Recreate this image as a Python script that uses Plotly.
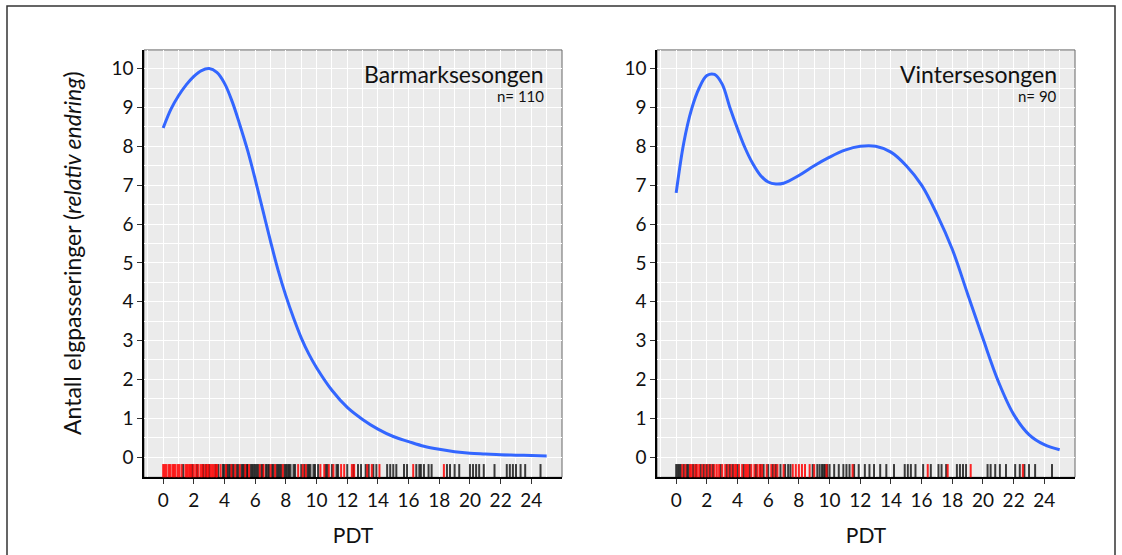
import plotly.graph_objects as go

# Smoothed relative crossing counts against PDT, bare-ground season
barmark_pdt = [0, 0.5, 1, 1.5, 2, 2.5, 3, 3.5, 4, 4.5, 5, 5.5, 6, 6.5, 7, 7.5, 8,
               8.5, 9, 9.5, 10, 11, 12, 13, 14, 15, 16, 17, 18, 19, 20, 21, 22,
               23, 24, 25]
barmark_val = [8.47, 8.95, 9.3, 9.58, 9.8, 9.95, 10.0, 9.9, 9.62, 9.15, 8.55,
               7.9, 7.15, 6.35, 5.55, 4.8, 4.15, 3.58, 3.07, 2.65, 2.3, 1.72,
               1.28, 0.97, 0.72, 0.53, 0.4, 0.28, 0.2, 0.14, 0.1, 0.08, 0.06,
               0.05, 0.04, 0.03]

# Smoothed relative crossing counts against PDT, winter season
vinter_pdt = [0, 0.5, 1, 1.5, 2, 2.5, 3, 3.5, 4, 4.5, 5, 5.5, 6, 6.5, 7, 8, 9,
              10, 11, 12, 13, 14, 15, 16, 17, 18, 19, 20, 21, 22, 23, 24, 25]
vinter_val = [6.8, 8.1, 8.95, 9.5, 9.82, 9.85, 9.6, 9.0, 8.45, 7.95, 7.55,
              7.25, 7.08, 7.03, 7.05, 7.25, 7.5, 7.72, 7.9, 8.0, 8.0, 7.85,
              7.5, 7.0, 6.25, 5.35, 4.2, 3.05, 1.95, 1.1, 0.58, 0.32, 0.19]

# Individual observations (rug), split by colour group
barmark_red = [0.0, 0.1, 0.2, 0.35, 0.45, 0.6, 0.7, 0.8, 0.95, 1.05, 1.2,
               1.45, 1.55, 1.65, 1.75, 1.85, 2.0, 2.15, 2.3, 2.45, 2.55, 2.7,
               2.85, 2.95, 3.1, 3.2, 3.3, 3.45, 3.5, 3.75, 4.1, 4.45, 4.7, 5.0,
               5.35, 5.6, 6.3, 6.55, 7.0, 7.3, 7.8, 8.8, 9.1, 9.3, 10.25,
               10.5, 10.8, 11.1, 11.6, 11.8, 12.3, 12.45, 13.3, 13.6, 14.1,
               16.3, 18.3]
barmark_black = [1.3, 1.9, 2.2, 2.6, 2.8, 3.0, 3.4, 3.6, 3.9, 4.0, 4.15, 4.25,
                 4.35, 4.5, 4.6, 4.8, 4.9, 5.1, 5.2, 5.3, 5.45, 5.5, 5.7, 5.8,
                 5.9, 6.0, 6.1, 6.2, 6.4, 6.5, 6.7, 6.8, 6.9, 7.1, 7.2, 7.4,
                 7.5, 7.6, 7.7, 7.9, 8.0, 8.1, 8.2, 8.3, 8.5, 8.6, 9.0, 9.2,
                 9.4, 9.5, 9.6, 9.8, 9.9, 10.1, 10.6, 10.7, 11.0, 11.3, 11.4,
                 12.0, 12.4, 12.7, 12.9, 13.2, 13.4, 13.7, 13.9, 14.6, 14.8,
                 15.0, 15.2, 15.7, 15.9, 16.5, 16.7, 16.8, 17.0, 17.3, 17.5,
                 18.5, 18.7, 19.0, 19.3, 20.0, 20.2, 20.4, 20.6, 20.9, 21.6,
                 22.4, 22.6, 22.8, 23.0, 23.3, 23.6, 24.6]
vinter_red = [0.4, 0.6, 0.9, 1.0, 1.2, 1.35, 1.5, 1.7, 1.9, 2.1, 2.3, 2.5,
              2.65, 2.8, 3.0, 3.2, 3.4, 3.6, 3.8, 3.9, 4.1, 4.3, 4.5, 4.6, 4.7,
              4.9, 5.1, 5.3, 5.45, 5.6, 5.9, 6.2, 6.4, 6.6, 7.0, 7.6, 7.8, 8.0,
              8.2, 8.4, 8.7, 9.0, 9.8, 11.5, 16.4, 17.7, 19.2, 22.6]
vinter_black = [0.0, 0.1, 0.2, 0.3, 0.5, 0.7, 0.8, 1.1, 1.3, 1.6, 1.8, 2.0,
                2.2, 2.4, 2.9, 3.3, 3.5, 3.7, 4.0, 4.4, 4.8, 5.2, 5.5, 5.7,
                6.0, 6.3, 6.5, 6.8, 7.1, 7.3, 7.45, 8.9, 9.2, 9.35, 9.5, 9.6,
                9.7, 9.85, 10.0, 10.3, 10.6, 10.9, 11.1, 11.3, 11.6, 11.9,
                12.3, 12.6, 12.9, 13.3, 13.7, 14.2, 14.9, 15.1, 15.3, 15.6,
                16.1, 16.6, 17.1, 17.3, 17.6, 18.3, 18.5, 18.7, 18.9, 20.3,
                20.5, 20.8, 21.1, 21.5, 22.1, 22.4, 22.7, 23.0, 23.4, 24.5]

panel_titles = ["Barmarksesongen", "Vintersesongen"]
panel_n = ["n= 110", "n= 90"]
x_ticks = list(range(0, 25, 2))
y_ticks = list(range(0, 11))
y_title = "Antall elgpasseringer (<i>relativ endring</i>)"

FONT = "Lato"
CURVE = "#3366FF"
TEXT = "#111111"

fig = go.Figure()
fig.add_trace(go.Scatter(x=barmark_pdt, y=barmark_val, mode="lines",
                         line=dict(color=CURVE, width=3, shape="spline",
                                   smoothing=1.0),
                         xaxis="x", yaxis="y", showlegend=False))
fig.add_trace(go.Scatter(x=vinter_pdt, y=vinter_val, mode="lines",
                         line=dict(color=CURVE, width=3, shape="spline",
                                   smoothing=1.0),
                         xaxis="x2", yaxis="y2", showlegend=False))

shapes = []


def rug(values, axis, color, opacity):
    yref = "y domain" if axis == "x" else "y2 domain"
    for v in values:
        shapes.append(dict(type="line", xref=axis, yref=yref, x0=v, x1=v,
                           y0=0, y1=0.031, line=dict(color=color, width=2),
                           opacity=opacity, layer="above"))


rug(barmark_black, "x", "black", 0.75)
rug(barmark_red, "x", "#FF0000", 0.85)
rug(vinter_black, "x2", "black", 0.75)
rug(vinter_red, "x2", "#FF0000", 0.85)

# thin grey frame around each panel
for xr, yr in (("x domain", "y domain"), ("x2 domain", "y2 domain")):
    shapes.append(dict(type="rect", xref=xr, yref=yr, x0=0, x1=1, y0=0, y1=1,
                       line=dict(color="#666666", width=1), layer="below"))

# outer border of the figure
shapes.append(dict(type="rect", xref="paper", yref="paper", x0=7 / 1122,
                   x1=1115 / 1122, y0=-0.05, y1=1 - 6 / 555,
                   line=dict(color="#333333", width=1.5)))

annotations = []
for i, xr in enumerate(("x domain", "x2 domain")):
    yr = "y domain" if i == 0 else "y2 domain"
    annotations.append(dict(text=panel_titles[i], xref=xr, yref=yr, x=0.962,
                            y=0.943, xanchor="right", yanchor="middle",
                            showarrow=False,
                            font=dict(family=FONT, size=23, color=TEXT)))
    annotations.append(dict(text=panel_n[i], xref=xr, yref=yr, x=0.962,
                            y=0.893, xanchor="right", yanchor="middle",
                            showarrow=False,
                            font=dict(family=FONT, size=15, color=TEXT)))

# shared y-axis title, placed a little above the panel centre
annotations.append(dict(text=y_title, xref="paper", yref="paper",
                        x=72 / 1122, y=1 - 253 / 555, textangle=-90,
                        xanchor="center", yanchor="middle", showarrow=False,
                        font=dict(family=FONT, size=23, color=TEXT)))

xaxis_common = dict(range=[-1.25, 26.0], tickvals=x_ticks, ticks="outside",
                    ticklen=5, tickcolor="#333333", showline=True,
                    linecolor="black", linewidth=1.5, showgrid=True,
                    gridcolor="white", gridwidth=1.2, zeroline=False,
                    minor=dict(dtick=1, showgrid=True, gridcolor="white",
                               gridwidth=1),
                    tickfont=dict(family=FONT, size=19, color=TEXT),
                    title=dict(text="PDT", standoff=18,
                               font=dict(family=FONT, size=21, color=TEXT)))
yaxis_common = dict(range=[-0.52, 10.48], tickvals=y_ticks, ticks="outside",
                    ticklen=5, tickcolor="#333333", showline=True,
                    linecolor="black", linewidth=1.5, showgrid=True,
                    gridcolor="white", gridwidth=1.2, zeroline=False,
                    minor=dict(dtick=0.5, showgrid=True, gridcolor="white",
                               gridwidth=1),
                    tickfont=dict(family=FONT, size=19, color=TEXT))

fig.update_layout(
    width=1122, height=555,
    margin=dict(l=0, r=0, t=0, b=0),
    paper_bgcolor="white",
    plot_bgcolor="#EBEBEB",
    xaxis=dict(domain=[144 / 1122, 562 / 1122], anchor="y", **xaxis_common),
    yaxis=dict(domain=[0.14, 0.91], anchor="x", **yaxis_common),
    xaxis2=dict(domain=[657 / 1122, 1075 / 1122], anchor="y2", **xaxis_common),
    yaxis2=dict(domain=[0.14, 0.91], anchor="x2", **yaxis_common),
    shapes=shapes,
    annotations=annotations,
)

fig.write_html("out.html")
